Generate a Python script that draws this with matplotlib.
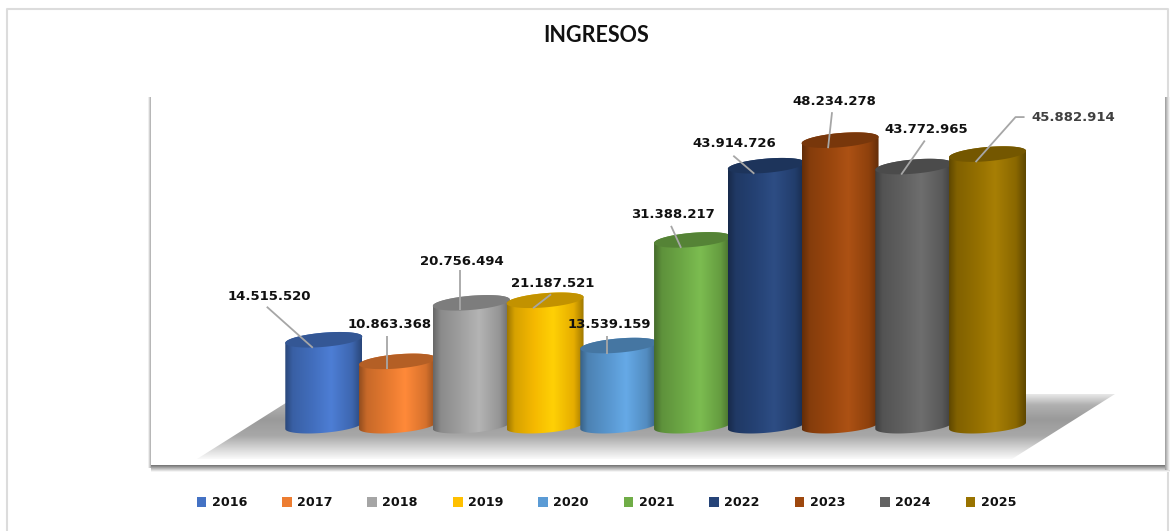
import numpy as np
import matplotlib
matplotlib.use("Agg")
import matplotlib.pyplot as plt
from matplotlib.patches import Polygon, Patch, Rectangle
from matplotlib.colors import LinearSegmentedColormap, to_rgb

years = ["2016", "2017", "2018", "2019", "2020", "2021", "2022", "2023", "2024", "2025"]
values = [14515520, 10863368, 20756494, 21187521, 13539159,
          31388217, 43914726, 48234278, 43772965, 45882914]
labels = ["14.515.520", "10.863.368", "20.756.494", "21.187.521", "13.539.159",
          "31.388.217", "43.914.726", "48.234.278", "43.772.965", "45.882.914"]
colors = ["#4472C4", "#ED7D31", "#A5A5A5", "#FFC000", "#5B9BD5",
          "#70AD47", "#264478", "#9E480E", "#636363", "#997300"]
title = "INGRESOS"

W, H = 1170, 531
X0, DX = 323.8, 73.75     # pixel of category 0, pixels per category
Y0, SY = 425.7, 5.92e-6   # pixel of value 0, pixels per unit

fig = plt.figure(figsize=(W / 100, H / 100), dpi=100, facecolor="white")
bg = fig.add_axes([0, 0, 1, 1])
bg.set_xlim(0, W); bg.set_ylim(H, 0); bg.axis("off")

def vgrad(ax, x0, x1, y0, y1, stops, vertical=True, clip=None, z=1):
    cm = LinearSegmentedColormap.from_list("g", stops)
    g = np.linspace(0, 1, 256)
    g = g[:, None] if vertical else g[None, :]
    im = ax.imshow(g, cmap=cm, extent=(x0, x1, y1, y0), aspect="auto", zorder=z, vmin=0, vmax=1)
    if clip is not None:
        im.set_clip_path(clip)
    return im

# outer border
bg.plot([7, 7, 1168, 1168], [531, 9, 9, 531], color="#dcdcdc", lw=1.5, zorder=1)
# plot panel shadows
vgrad(bg, 151, 1171, 465, 472, ["#6f6f6f", "#ffffff"], z=2)
vgrad(bg, 1165, 1170, 97, 470, ["#9a9a9a", "#ffffff"], vertical=False, z=2)
vgrad(bg, 148, 151, 97, 468, ["#ffffff", "#a8a8a8"], vertical=False, z=2)
bg.add_patch(Rectangle((151, 98), 1014, 367, fc="white", ec="none", zorder=3))

# floor
floor = Polygon([(197, 459), (1012, 459), (1115, 394), (300, 394)], closed=True,
                fc="none", ec="none", transform=bg.transData, zorder=4)
bg.add_patch(floor)
vgrad(bg, 197, 1115, 393, 459,
      [(0, "#eeeeee"), (0.18, "#b0b0b0"), (0.4, "#9a9a9a"), (0.65, "#a8a8a8"),
       (0.85, "#d8d8d8"), (1, "#fafafa")],
      clip=floor, z=4)
bg.set_xlim(0, W); bg.set_ylim(H, 0)

# data axes aligned on the figure
ax = fig.add_axes([0, 0, 1, 1])
ax.patch.set_alpha(0)
ax.set_xlim(-X0 / DX, (W - X0) / DX)
ax.set_ylim(-(H - Y0) / SY, Y0 / SY)
ax.axis("off")

HALF_W = 38.5 / DX
HALF_H = 7.1 / SY
TILT = 3.2 / SY / HALF_W

def ellipse_xy(i, v, t):
    dx = HALF_W * np.cos(t)
    return i + dx, v + HALF_H * np.sin(t) + TILT * dx

for i, (v, c) in enumerate(zip(values, colors)):
    rgb = np.array(to_rgb(c))
    bright = np.clip(rgb * 1.06 + 0.02, 0, 1)
    edge = rgb * 0.62
    t_low = np.linspace(np.pi, 2 * np.pi, 80)
    t_up = np.linspace(0, np.pi, 80)
    xb, yb = ellipse_xy(i, 0, t_low)
    xt, yt = ellipse_xy(i, v, t_up)
    verts = np.vstack([np.c_[xb, yb], np.c_[xt, yt]])
    z = 10 + i * 2
    body = Polygon(verts, closed=True, fc="none", ec="none", zorder=z)
    ax.add_patch(body)
    ymax = v + 2 * HALF_H; ymin = -2 * HALF_H
    vgrad(ax, i - HALF_W, i + HALF_W, ymin, ymax,
          [(0, edge), (0.1, rgb * 0.84), (0.35, rgb * 0.96), (0.6, bright),
           (0.87, rgb * 0.9), (1, edge)],
          vertical=False, clip=body, z=z)
    t = np.linspace(0, 2 * np.pi, 160)
    xe, ye = ellipse_xy(i, v, t)
    ax.add_patch(Polygon(np.c_[xe, ye], closed=True, fc=rgb * 0.76, ec="none", zorder=z + 1))

ax.set_xlim(-X0 / DX, (W - X0) / DX)
ax.set_ylim(-(H - Y0) / SY, Y0 / SY)

# leader offsets in pixels from each top centre, then label centre offsets
leaders = [
    [(-11, -8), (-57, 33)], [(-11, -8), (-11, 25)], [(-11, -7), (-11, 33)],
    [(-12, -8), (6, 6)], [(-12, -8), (-12, 10)], [(-11.5, -8), (-21.5, 14)],
    [(-12, -8), (-33, 10)], [(-12, -8), (-8, 28)], [(-12.6, -8), (11, 26)],
    [(-12, -8), (28, 37), (37, 37)],
]
label_pos = [(-54, 43), (-8, 37), (-9, 41), (8, 17), (-9, 21), (-20, 25),
             (-32, 22), (-6, 39), (12, 37), (86, 37)]

for i, (v, lab) in enumerate(zip(values, labels)):
    pts = leaders[i]
    ax.plot([i + p[0] / DX for p in pts], [v + p[1] / SY for p in pts],
            color="#a6a6a6", lw=1.3, zorder=40, solid_capstyle="butt")
    lx, ly = label_pos[i]
    ax.text(i + lx / DX, v + ly / SY, lab, ha="center", va="center", fontsize=9.5,
            fontweight="bold", color="#404040" if i == 9 else "#111111", zorder=41)

fig.text(596 / W, 1 - 36 / H, title, ha="center", va="center", fontsize=15.5,
         fontweight="bold", family="Lato", color="#111111")

handles = [Patch(facecolor=c, edgecolor="none", label=y) for y, c in zip(years, colors)]
fig.legend(handles=handles, ncol=10, loc="center", bbox_to_anchor=(606.5 / W, 1 - 503 / H),
           frameon=False, prop={"weight": "bold", "size": 9.2},
           handlelength=0.75, handleheight=0.75, handletextpad=0.42, columnspacing=2.74,
           borderpad=0, labelcolor="#111111")

fig.savefig("out.png", dpi=100, facecolor="white")
